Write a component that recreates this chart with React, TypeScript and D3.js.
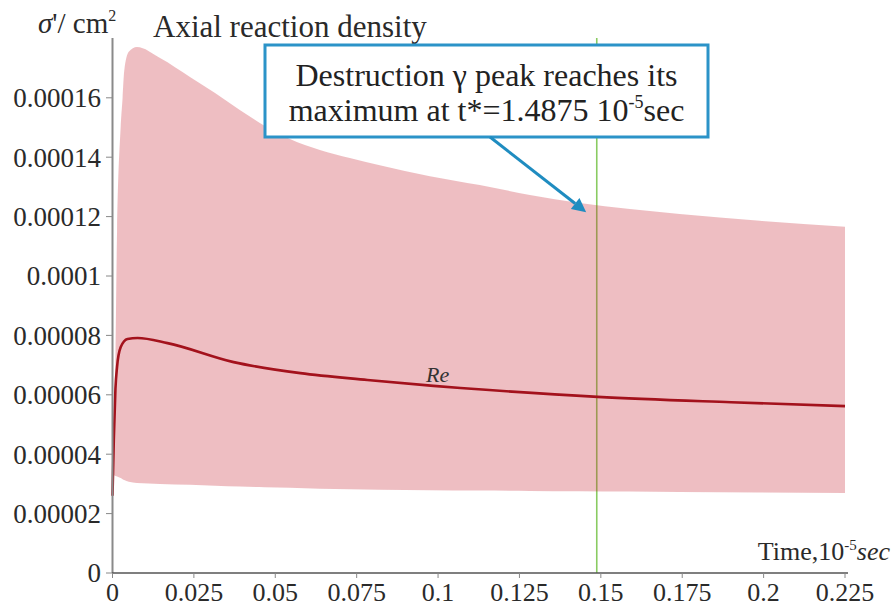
import React from "react";
import * as d3 from "d3";

const xTicks = [0, 0.025, 0.05, 0.075, 0.1, 0.125, 0.15, 0.175, 0.2, 0.225];
const xTickLabels = ["0", "0.025", "0.05", "0.075", "0.1", "0.125", "0.15", "0.175", "0.2", "0.225"];
const yTicks = [0, 0.00002, 0.00004, 0.00006, 0.00008, 0.0001, 0.00012, 0.00014, 0.00016];
const yTickLabels = ["0", "0.00002", "0.00004", "0.00006", "0.00008", "0.0001", "0.00012", "0.00014", "0.00016"];

const bandT = [0, 0.0006, 0.0014, 0.0025, 0.0031, 0.0036, 0.005, 0.0075, 0.0146, 0.0238, 0.0315, 0.0391, 0.0468, 0.0545, 0.0637, 0.0729, 0.0821, 0.0975, 0.1128, 0.1282, 0.1435, 0.1589, 0.1742, 0.1988, 0.225];
const bandUpper = [0.00004, 0.000052, 0.000115, 0.00015, 0.00016, 0.000169, 0.0001755, 0.0001771, 0.0001734, 0.000167, 0.0001616, 0.0001559, 0.0001505, 0.0001461, 0.0001424, 0.0001397, 0.0001373, 0.0001336, 0.0001306, 0.0001273, 0.0001246, 0.0001226, 0.0001209, 0.0001186, 0.0001166];
const bandLower = [0.000033, 0.0000328, 0.0000325, 0.000032, 0.0000316, 0.0000313, 0.0000307, 0.0000303, 0.00003, 0.0000297, 0.0000294, 0.0000291, 0.0000289, 0.0000287, 0.0000284, 0.0000282, 0.000028, 0.00002785, 0.00002775, 0.00002765, 0.00002755, 0.00002745, 0.0000273, 0.0000271, 0.0000269];

const reT = [0, 0.0004, 0.0009, 0.0014, 0.0025, 0.0046, 0.0077, 0.0169, 0.0372, 0.0577, 0.0783, 0.0986, 0.1069, 0.149, 0.19, 0.225];
const reV = [0.000026, 0.000045, 0.000062, 0.0000694, 0.000076, 0.0000788, 0.0000791, 0.0000774, 0.000071, 0.0000673, 0.000065, 0.000063, 0.0000623, 0.0000593, 0.0000575, 0.0000562];

const peakT = 0.14875;
const arrowTargetT = 0.1455;
const arrowTargetV = 0.0001215;

const W = 893;
const H = 610;
const FONT = "'Liberation Serif', 'Times New Roman', serif";

export default function App() {
  const x = d3.scaleLinear().domain([0, 0.225]).range([112.5, 845]);
  const y = d3.scaleLinear().domain([0, 0.00018]).range([573, 38.4]);

  const bandData = bandT.map((t, i) => ({ t, lo: bandLower[i], hi: bandUpper[i] }));
  const area = d3
    .area<{ t: number; lo: number; hi: number }>()
    .x((d) => x(d.t))
    .y0((d) => y(d.lo))
    .y1((d) => y(d.hi))
    .curve(d3.curveMonotoneX);

  const reData = reT.map((t, i) => ({ t, v: reV[i] }));
  const line = d3
    .line<{ t: number; v: number }>()
    .x((d) => x(d.t))
    .y((d) => y(d.v))
    .curve(d3.curveMonotoneX);

  const boxX = 265, boxY = 45, boxW = 443, boxH = 92;
  const arrowStartX = 490, arrowStartY = boxY + boxH;
  const tipX = x(arrowTargetT);
  const tipY = y(arrowTargetV);
  const ang = Math.atan2(tipY - arrowStartY, tipX - arrowStartX);
  const ah = 14, aw = 7;
  const bx = tipX - ah * Math.cos(ang);
  const by = tipY - ah * Math.sin(ang);
  const head = `M${tipX},${tipY} L${bx + aw * Math.sin(ang)},${by - aw * Math.cos(ang)} L${bx - aw * Math.sin(ang)},${by + aw * Math.cos(ang)} Z`;

  const txt = "#2a2a2a";

  return (
    <svg width={W} height={H} style={{ position: "absolute", left: 0, top: 0, background: "#fff", fontFamily: FONT }}>
      {/* peak time marker */}
      <line x1={x(peakT)} x2={x(peakT)} y1={38} y2={573} stroke="#8acb62" strokeWidth={1.6} />
      {/* band */}
      <path d={area(bandData) || ""} fill="rgb(200,40,52)" fillOpacity={0.3} />
      {/* Re line */}
      <path d={line(reData) || ""} fill="none" stroke="#a3121c" strokeWidth={2.6} />
      <text x={426} y={382} fontSize={22} fontStyle="italic" fill="#333">Re</text>

      {/* axes */}
      <line x1={112.5} x2={112.5} y1={38} y2={573} stroke="#8a8a8a" strokeWidth={2} />
      <line x1={112} x2={848} y1={573} y2={573} stroke="#555" strokeWidth={1.6} />
      {yTicks.map((v, i) => (
        <g key={"y" + i}>
          <line x1={106} x2={112} y1={y(v)} y2={y(v)} stroke="#888" strokeWidth={1} />
          <text x={101} y={y(v)} dy="0.35em" textAnchor="end" fontSize={27} fill={txt}>
            {yTickLabels[i]}
          </text>
        </g>
      ))}
      {xTicks.map((v, i) => (
        <g key={"x" + i}>
          <line x1={x(v)} x2={x(v)} y1={573} y2={578} stroke="#888" strokeWidth={1} />
          <text x={x(v)} y={601} textAnchor="middle" fontSize={26} fill={txt}>
            {xTickLabels[i]}
          </text>
        </g>
      ))}

      {/* axis titles */}
      <text x={38} y={33} fontSize={29} fill={txt}>
        <tspan fontStyle="italic">σ</tspan>
        <tspan>'/ cm</tspan>
        <tspan fontSize={16} dy={-12}>2</tspan>
      </text>
      <text x={153} y={37} fontSize={31} fill={txt}>Axial reaction density</text>
      <text x={890} y={560} textAnchor="end" fontSize={26} fill={txt}>
        <tspan>Time,10</tspan>
        <tspan fontSize={15} dy={-10}>-5</tspan>
        <tspan dy={10} fontStyle="italic">sec</tspan>
      </text>

      {/* callout */}
      <rect x={boxX} y={boxY} width={boxW} height={boxH} fill="#fff" stroke="#2b93c8" strokeWidth={3} />
      <text x={boxX + boxW / 2} y={86} textAnchor="middle" fontSize={32} fill="#222">
        Destruction γ  peak reaches its
      </text>
      <text x={boxX + boxW / 2} y={121} textAnchor="middle" fontSize={32} fill="#222">
        <tspan>maximum at t*=1.4875 10</tspan>
        <tspan fontSize={18} dy={-13}>-5</tspan>
        <tspan dy={13}>sec</tspan>
      </text>
      <line x1={arrowStartX} y1={arrowStartY} x2={bx} y2={by} stroke="#1f8cc0" strokeWidth={3} />
      <path d={head} fill="#1f8cc0" />
    </svg>
  );
}
